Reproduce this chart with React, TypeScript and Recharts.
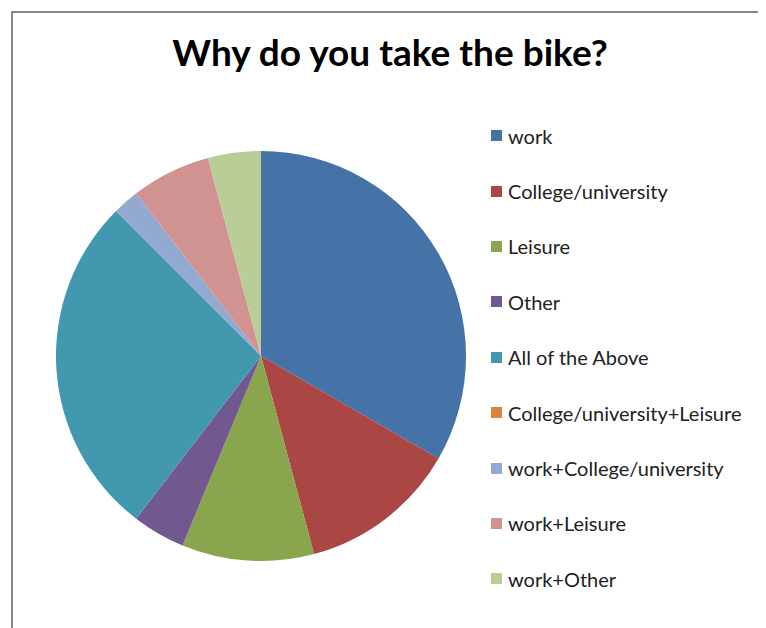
import React from "react";
import { PieChart, Pie, Cell, Legend } from "recharts";

const categories = [
  "work",
  "College/university",
  "Leisure",
  "Other",
  "All of the Above",
  "College/university+Leisure",
  "work+College/university",
  "work+Leisure",
  "work+Other",
];
const counts = [16, 6, 5, 2, 13, 0, 1, 3, 2];
const colors = [
  "#4572A7",
  "#AA4643",
  "#89A54E",
  "#71588F",
  "#4198AF",
  "#DB843D",
  "#93A9CF",
  "#D19392",
  "#B9CD96",
];
const title = "Why do you take the bike?";

const data = categories.map((name, i) => ({ name, value: counts[i] }));

const LegendContent = () => (
  <div style={{ fontFamily: "Lato, 'Open Sans', sans-serif", fontSize: 20, color: "#222" }}>
    {categories.map((name, i) => (
      <div
        key={name}
        style={{ height: 55.4, display: "flex", alignItems: "center", whiteSpace: "nowrap" }}
      >
        <span
          style={{
            display: "inline-block",
            width: 11,
            height: 11,
            background: colors[i],
            marginRight: 6,
          }}
        />
        <span>{name}</span>
      </div>
    ))}
  </div>
);

export default function App() {
  return (
    <div style={{ position: "relative", width: 758, height: 620, overflow: "hidden", background: "#fff" }}>
      <div
        style={{
          position: "absolute",
          left: 3,
          top: 3,
          width: 900,
          height: 900,
          border: "2px solid #878787",
          boxSizing: "border-box",
        }}
      />
      <div
        style={{
          position: "absolute",
          left: 82,
          top: 25,
          width: 600,
          textAlign: "center",
          fontFamily: "Lato, 'Open Sans', sans-serif",
          fontWeight: 700,
          fontSize: 37,
          lineHeight: "37px",
          color: "#000",
          whiteSpace: "nowrap",
        }}
      >
        {title}
      </div>
      <div style={{ position: "absolute", left: 0, top: 0 }}>
        <PieChart width={758} height={620} margin={{ top: 0, right: 0, bottom: 0, left: 0 }}>
          <Pie
            data={data}
            dataKey="value"
            nameKey="name"
            cx={253}
            cy={348}
            outerRadius={205}
            startAngle={90}
            endAngle={-270}
            isAnimationActive={false}
            stroke="rgba(255,255,255,0.4)"
            strokeWidth={1}
            label={false}
            labelLine={false}
          >
            {data.map((d, i) => (
              <Cell key={d.name} fill={colors[i]} stroke={d.value === 0 ? "none" : undefined} />
            ))}
          </Pie>
          <Legend
            layout="vertical"
            align="right"
            verticalAlign="top"
            content={<LegendContent />}
            wrapperStyle={{ position: "absolute", left: 483, top: 100, width: 275 }}
          />
        </PieChart>
      </div>
    </div>
  );
}
